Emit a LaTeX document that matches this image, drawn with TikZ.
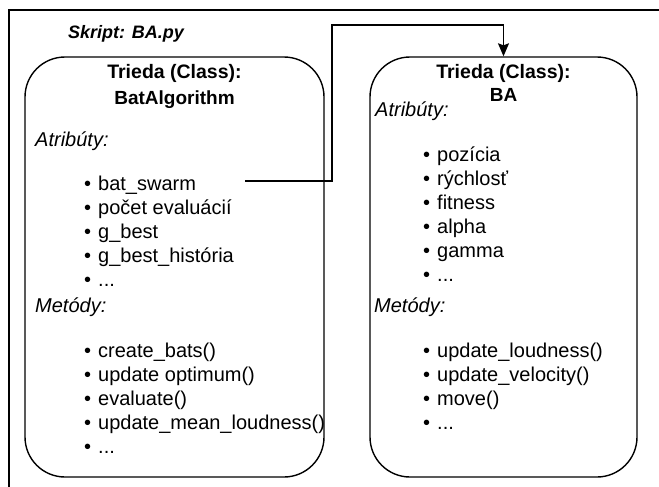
\documentclass[tikz,border=0pt]{standalone}
\usepackage{fontspec}
\setmainfont{Liberation Sans}
\usetikzlibrary{arrows.meta}
\begin{document}
\begin{tikzpicture}[x=1pt,y=-1pt,
  classbox/.style={draw, line width=1.4pt, rounded corners=40pt, inner sep=0pt},
  txt/.style={inner sep=0pt, anchor=base west, font=\fontsize{20}{24}\selectfont},
  itm/.style={txt},
  hd/.style={inner sep=0pt, anchor=base, font=\bfseries\fontsize{19.5}{24}\selectfont},
  hdb/.style={hd, font=\bfseries\fontsize{19}{24}\selectfont},
  sec/.style={txt, font=\itshape\fontsize{20}{24}\selectfont},
  conn/.style={line width=1.3pt, -{Stealth[length=13pt,width=11pt,inset=2pt]}},
  frame/.style={line width=2pt}
]
\def\tdots{...}
\def\bul{\llap{•\hspace{7pt}}}
\useasboundingbox (0,0) rectangle (659,487);
\fill[white] (0,0) rectangle (659,487);
% outer frame
\draw[frame] (9,487) -- (9,10) -- (659,10);
\node[inner sep=0pt, anchor=base west, font=\bfseries\itshape\fontsize{18}{20}\selectfont] (skript) at (68,39) {Skript: BA.py};
% boxes
\node[classbox, minimum width=299pt, minimum height=420pt] (L) at (174.5,267) {};
\node[classbox, minimum width=267pt, minimum height=420pt] (R) at (503.5,267) {};
% left box
\node[hd] (Lh1) at (174.5,78) {Trieda (Class):};
\node[hdb] (Lh2) at (174.5,104) {BatAlgorithm};
\node[sec] (La) at (35,146) {Atribúty:};
\foreach \t [count=\i] in {bat\_swarm, počet evaluácií, g\_best, g\_best\_história, \tdots}
  \node[itm] (la\i) at (98,{190+24*(\i-1)}) {\bul\t};
\node[sec] (Lm) at (35,312) {Metódy:};
\foreach \t [count=\i] in {create\_bats(), update optimum(), evaluate(), update\_mean\_loudness(), \tdots}
  \node[itm] (lm\i) at (98,{357+24*(\i-1)}) {\bul\t};
% right box
\node[hd] (Rh1) at (503.5,78) {Trieda (Class):};
\node[hdb] (Rh2) at (503.5,101) {BA};
\node[sec] (Ra) at (375,117) {Atribúty:};
\foreach \t [count=\i] in {pozícia, rýchlosť, fitness, alpha, gamma, \tdots}
  \node[itm] (ra\i) at (437,{161+24*(\i-1)}) {\bul\t};
\node[sec] (Rm) at (374,312) {Metódy:};
\foreach \t [count=\i] in {update\_loudness(), update\_velocity(), move(), \tdots}
  \node[itm] (rm\i) at (437,{357+24*(\i-1)}) {\bul\t};
% connector
\coordinate (src) at (245,181);
\coordinate (bend) at (332,25);
\draw[conn] (src) -| (bend) -| (R.north);
\end{tikzpicture}
\end{document}
